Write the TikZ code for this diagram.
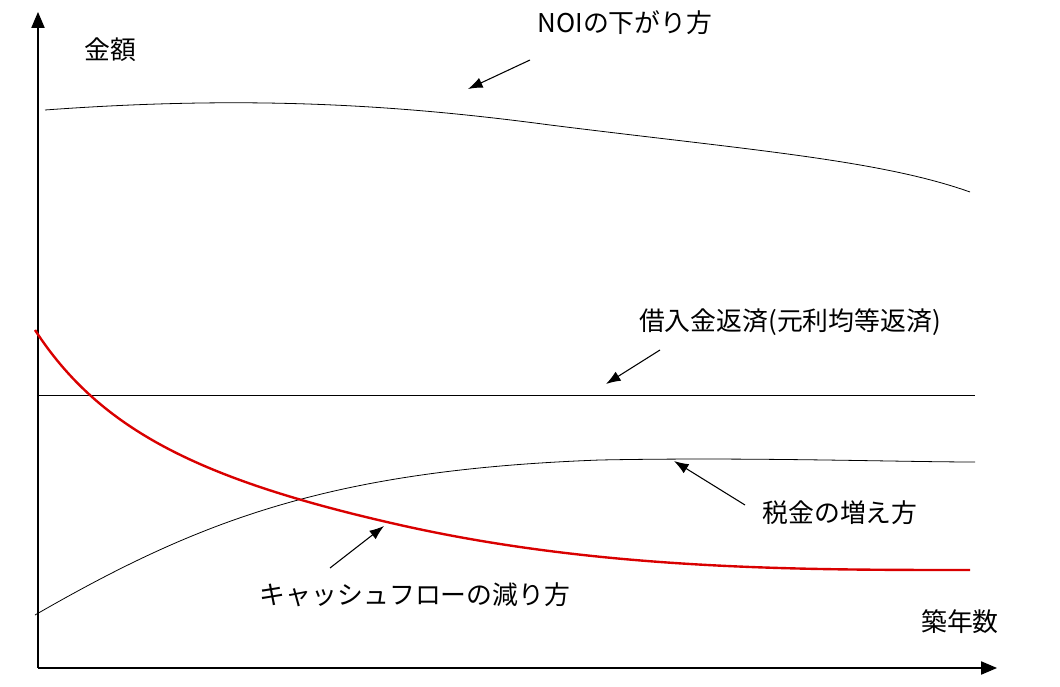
\documentclass[tikz,border=0pt]{standalone}
\usepackage{fontspec}
\setmainfont{Noto Sans CJK JP}
\usetikzlibrary{arrows.meta}
\tikzset{
  lbl/.style={font=\fontsize{19.5}{22}\selectfont},
  pointer/.style={-{Latex[length=11pt,width=8pt]},thick},
  axis/.style={-{Triangle[length=12pt,width=10pt]},thick}
}
\begin{document}
\begin{tikzpicture}[x=0.0265cm,y=-0.0265cm,semithick]
\useasboundingbox (0,0) rectangle (1060,687);
% axes
\coordinate (o) at (38,668);
\coordinate (ytop) at (38,12);
\coordinate (xend) at (997,668);
\draw[axis] (o) -- (ytop);
\draw[axis] (o) -- (xend);
% curves
\draw (45,110) .. controls (250,95) and (400,105) .. (550,125) .. controls (750,150) and (880,160) .. (970,192);
\draw (38,395) -- (975,395);
\draw (35,615) .. controls (200,520) and (330,470) .. (600,460) .. controls (750,457) and (900,462) .. (975,462);
\draw[red!85!black,line width=1.8pt] (35,330) .. controls (100,430) and (200,480) .. (400,525) .. controls (600,570) and (800,570) .. (970,570);
% labels
\node[lbl] (kin) at (110,50) {金額};
\node[lbl] (noi) at (625,23) {NOIの下がり方};
\node[lbl] (loan) at (790,322) {借入金返済(元利均等返済)};
\node[lbl] (tax) at (840,513) {税金の増え方};
\node[lbl] (cf) at (415,595) {キャッシュフローの減り方};
\node[lbl] (age) at (960,622) {築年数};
% pointers
\coordinate (noiA) at (530,60); \coordinate (noiB) at (468,89);
\coordinate (loanA) at (660,350); \coordinate (loanB) at (606,384);
\coordinate (taxA) at (745,505); \coordinate (taxB) at (674,461);
\coordinate (cfA) at (330,568); \coordinate (cfB) at (384,526);
\draw[pointer] (noiA) -- (noiB);
\draw[pointer] (loanA) -- (loanB);
\draw[pointer] (taxA) -- (taxB);
\draw[pointer] (cfA) -- (cfB);
\end{tikzpicture}
\end{document}
